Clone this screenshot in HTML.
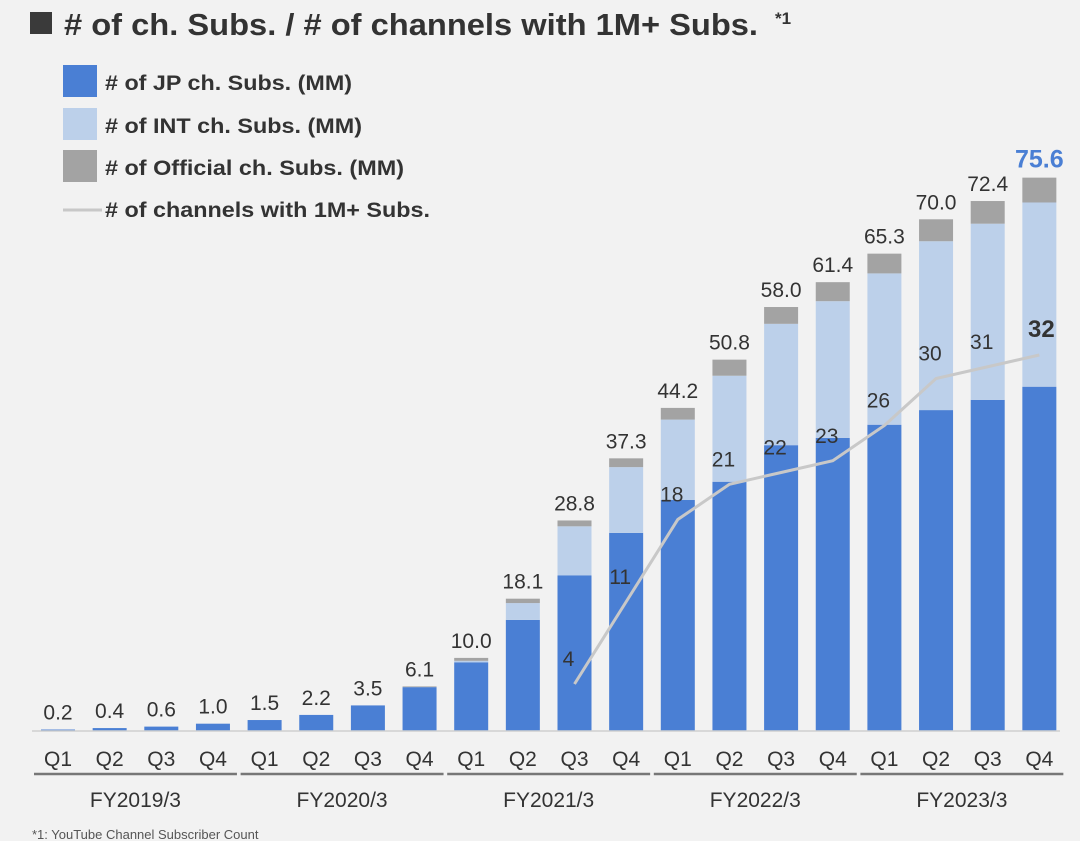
<!DOCTYPE html>
<html><head><meta charset="utf-8"><style>
body{margin:0;background:#fff;}
#wrap{position:relative;width:1080px;height:847px;overflow:hidden;font-family:"Liberation Sans",sans-serif;}
</style></head><body>
<div id="wrap">
<svg id="svg" width="1080" height="847" xmlns="http://www.w3.org/2000/svg">
<rect x="0" y="0" width="1080" height="841" fill="#f2f2f2"/>
<rect x="30" y="12" width="22" height="22" fill="#3a3a3a"/>
<text x="64" y="35" font-size="31" font-weight="bold" fill="#333" textLength="694" lengthAdjust="spacingAndGlyphs"># of ch. Subs. / # of channels with 1M+ Subs.</text>
<text x="775" y="24" font-size="17" font-weight="bold" fill="#333">*1</text>
<g>
<rect x="63" y="65" width="34" height="32" fill="#4a7fd4"/>
<text x="105" y="90" font-size="21" font-weight="bold" fill="#333" textLength="247" lengthAdjust="spacingAndGlyphs"># of JP ch. Subs. (MM)</text>
<rect x="63" y="108" width="34" height="32" fill="#bcd0ea"/>
<text x="105" y="133" font-size="21" font-weight="bold" fill="#333" textLength="257" lengthAdjust="spacingAndGlyphs"># of INT ch. Subs. (MM)</text>
<rect x="63" y="150" width="34" height="32" fill="#a3a3a3"/>
<text x="105" y="175" font-size="21" font-weight="bold" fill="#333" textLength="299" lengthAdjust="spacingAndGlyphs"># of Official ch. Subs. (MM)</text>
<line x1="63" y1="210" x2="102" y2="210" stroke="#c8c8c8" stroke-width="3"/>
<text x="105" y="217" font-size="21" font-weight="bold" fill="#333" textLength="325" lengthAdjust="spacingAndGlyphs"># of channels with 1M+ Subs.</text>
</g>
<g id="bars"></g>
<g id="axis"></g>
<g id="line"></g>
<text x="32" y="839" font-size="13" fill="#555">*1: YouTube Channel Subscriber Count</text>
</svg>
</div>
<script>
const quarters=["Q1","Q2","Q3","Q4","Q1","Q2","Q3","Q4","Q1","Q2","Q3","Q4","Q1","Q2","Q3","Q4","Q1","Q2","Q3","Q4"];
const fiscalYears=["FY2019/3","FY2020/3","FY2021/3","FY2022/3","FY2023/3"];
const jpSubs=[0.2,0.4,0.6,1.0,1.5,2.2,3.5,6.0,9.4,15.2,21.3,27.1,31.6,34.1,39.1,40.1,41.9,43.9,45.3,47.1];
const intSubs=[0,0,0,0,0,0,0,0,0.2,2.3,6.7,9.0,11.0,14.5,16.6,18.7,20.7,23.1,24.1,25.2];
const officialSubs=[0,0,0,0,0,0,0,0.1,0.4,0.6,0.8,1.2,1.6,2.2,2.3,2.6,2.7,3.0,3.1,3.4];
const totalLabels=["0.2","0.4","0.6","1.0","1.5","2.2","3.5","6.1","10.0","18.1","28.8","37.3","44.2","50.8","58.0","61.4","65.3","70.0","72.4","75.6"];
const channelIdx=[10,11,12,13,14,15,16,17,18,19];
const channels=[4,11,18,21,22,23,26,30,31,32];

const NS="http://www.w3.org/2000/svg";
const base=731, x0=58, step=51.65, bw=34;
const xPos=i=>x0+i*step;
const yBar=v=>base-v*7.31;
const yLine=v=>base-v*11.75;
function mk(tag,attrs,parent){const e=document.createElementNS(NS,tag);for(const k in attrs)e.setAttribute(k,attrs[k]);parent.appendChild(e);return e;}
const gb=document.getElementById('bars'),ga=document.getElementById('axis'),gl=document.getElementById('line');
quarters.forEach((q,i)=>{
  const cx=xPos(i);let y=base;
  const segs=[[jpSubs[i],"#4a7fd4","bar-jp"],[intSubs[i],"#bcd0ea","bar-int"],[officialSubs[i],"#a3a3a3","bar-official"]];
  segs.forEach(s=>{
    if(s[0]<=0)return;
    const h=s[0]*7.31;
    const r=mk('rect',{x:cx-bw/2,y:y-h,width:bw,height:h,fill:s[1]},gb);
    
    
    y-=h;
  });
  const last=i===quarters.length-1;
  const t=mk('text',{x:cx,y:y-10,'font-size':last?25:21,'font-weight':last?'bold':'normal',fill:last?'#4a7fd4':'#333','text-anchor':'middle'},gb);
  t.textContent=totalLabels[i];
  
  
  const ql=mk('text',{x:cx,y:766,'font-size':21,fill:'#333','text-anchor':'middle'},ga);
  ql.textContent=q;
  
  
});
const ax=mk('line',{x1:32,y1:base,x2:1060,y2:base,stroke:'#d0d0d0','stroke-width':1.5},ga);


fiscalYears.forEach((fy,g)=>{
  const l=xPos(g*4)-24,r=xPos(g*4+3)+24;
  const ln=mk('line',{x1:l,y1:774,x2:r,y2:774,stroke:'#777','stroke-width':2.5},ga);
  
  
  const t=mk('text',{x:(l+r)/2,y:807,'font-size':21,fill:'#333','text-anchor':'middle'},ga);
  t.textContent=fy;
  
  
});
const pts=channels.map((v,k)=>[xPos(channelIdx[k]),yLine(v)]);
const pl=mk('polyline',{points:pts.map(p=>p.join(',')).join(' '),fill:'none',stroke:'#c8c8c8','stroke-width':3},gl);


channels.forEach((v,k)=>{
  const last=k===channels.length-1;
  const t=mk('text',{x:pts[k][0]+(last?2:-6),y:pts[k][1]-(last?18:18),'font-size':last?24:21,'font-weight':last?'bold':'normal',fill:'#333','text-anchor':'middle'},gl);
  t.textContent=v;
  
  
});
</script>
</body></html>
